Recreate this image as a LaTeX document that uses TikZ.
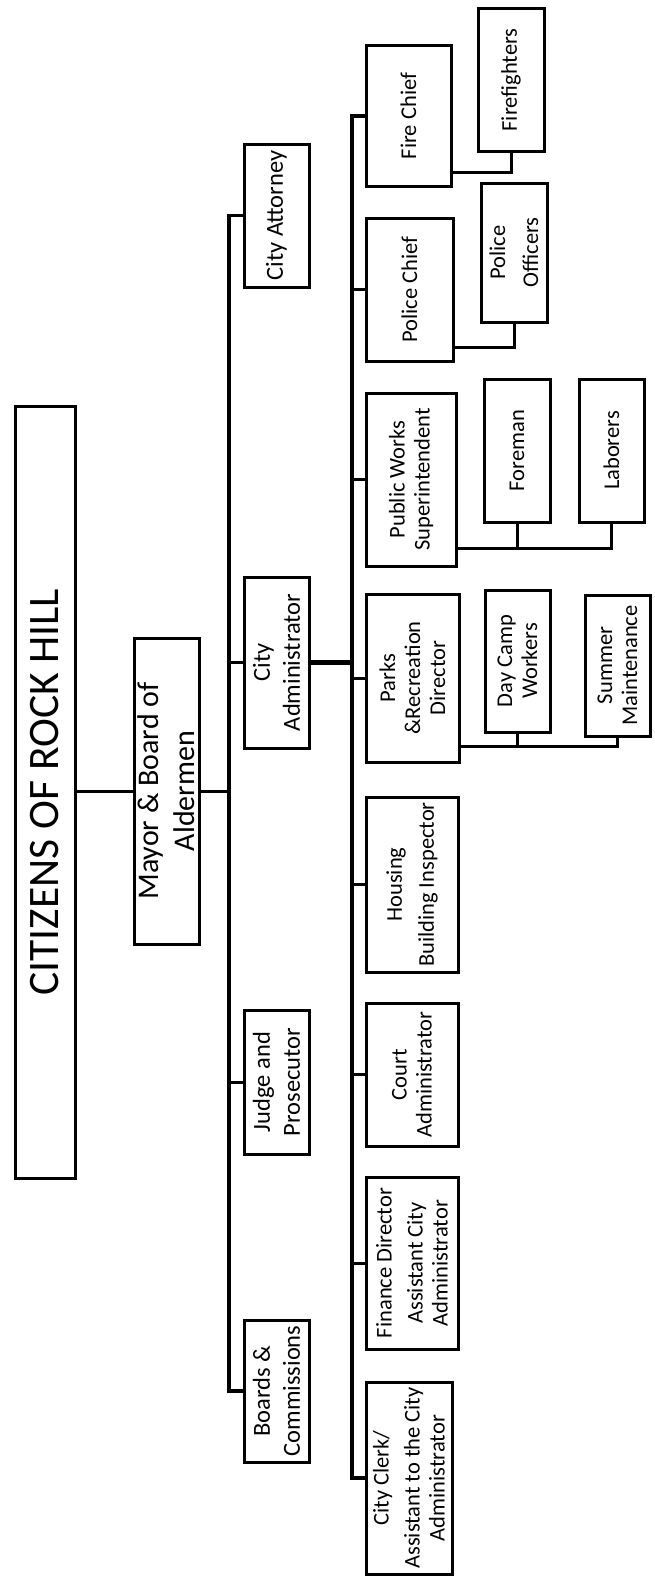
\documentclass[tikz,border=0pt]{standalone}
\usepackage{fontspec}
\setmainfont{Carlito}
\begin{document}
\begin{tikzpicture}[x=1pt,y=-1pt,
  box/.style={draw, line width=3pt, rotate=90, inner sep=0pt, align=center, anchor=center},
  lvtwo/.style={box, font=\fontsize{24.5}{30}\selectfont},
  lvthree/.style={box, font=\fontsize{22.5}{25}\selectfont},
  conn/.style={line width=3pt},
  trunk/.style={line width=3.5pt}]
\useasboundingbox (0,0) rectangle (654,1579);
% level 0 and 1
\node[box, minimum width=772pt, minimum height=60pt, font=\fontsize{43.5}{50}\selectfont] (cit) at (45,792) {CITIZENS OF ROCK HILL};
\node[box, minimum width=306pt, minimum height=65pt, font=\fontsize{30}{36}\selectfont] (mayor) at (166.5,791) {Mayor \& Board of\\Aldermen};
% level 2
\node[lvtwo, minimum width=143pt, minimum height=65pt] (att) at (276.5,215.5) {City Attorney};
\node[lvtwo, minimum width=171pt, minimum height=65pt] (adm) at (276.5,662.5) {City\\Administrator};
\node[lvtwo, minimum width=144pt, minimum height=65pt] (judge) at (276.5,1082) {Judge and\\Prosecutor};
\node[lvtwo, minimum width=142pt, minimum height=65pt] (boards) at (276.5,1391) {Boards \&\\Commissions};
% level 3
\node[lvthree, minimum width=140pt, minimum height=85pt] (fire) at (408.5,116) {Fire Chief};
\node[lvthree, minimum width=143pt, minimum height=87pt] (police) at (409.5,289.5) {Police Chief};
\node[lvthree, minimum width=173pt, minimum height=90pt] (pw) at (411,479.5) {Public Works\\Superintendent};
\node[lvthree, minimum width=168pt, minimum height=93pt] (parks) at (412.5,678) {Parks\\\&Recreation\\Director};
\node[lvthree, minimum width=175pt, minimum height=92pt] (housing) at (412,884.5) {Housing\\[7pt]Building Inspector};
\node[lvthree, minimum width=143pt, minimum height=92pt] (court) at (412,1074.5) {Court\\Administrator};
\node[lvthree, minimum width=172pt, minimum height=92pt] (fin) at (412,1263) {Finance Director\\[6pt]Assistant City\\Administrator};
\node[lvthree, minimum width=192pt, minimum height=86pt] (clerk) at (409,1478) {City Clerk/\\[6pt]Assistant to the City\\Administrator};
% level 4
\node[lvthree, minimum width=142pt, minimum height=66pt] (ff) at (511,80) {Firefighters};
\node[lvthree, minimum width=139pt, minimum height=66pt] (po) at (514,252.5) {Police\\[8pt]Officers};
\node[lvthree, minimum width=143pt, minimum height=66pt] (fore) at (517,450.5) {Foreman};
\node[lvthree, minimum width=143pt, minimum height=65pt] (lab) at (611.5,450.5) {Laborers};
\node[lvthree, minimum width=142pt, minimum height=65pt] (dc) at (517.5,661) {Day Camp\\Workers};
\node[lvthree, minimum width=141pt, minimum height=65pt] (sm) at (617.5,665.5) {Summer\\Maintenance};
% junction coordinates
\coordinate (tone) at (229,0);
\coordinate (ttwo) at (352,0);
\coordinate (fireJ) at (0,172);
\coordinate (polJ) at (0,347);
\coordinate (pwJ) at (0,548);
\coordinate (parksJ) at (0,746);
% connectors
\draw[conn] (mayor.north -| cit.south) -- (mayor.north);
\draw[conn] (mayor.south) -- (mayor.south -| tone);
\draw[trunk] (att.north) -- (att.north -| tone) -- (boards.north -| tone) -- (boards.north);
\draw[conn] (adm.north) -- (adm.north -| tone);
\draw[conn] (judge.north) -- (judge.north -| tone);
\draw[line width=5pt] (adm.south) -- (adm.south -| ttwo);
\draw[trunk] (fire.north) -- (fire.north -| ttwo) -- (clerk.north -| ttwo) -- (clerk.north);
\foreach \n in {police,pw,parks,housing,court,fin}
  \draw[conn] (\n.north) -- (\n.north -| ttwo);
\draw[conn] (fire.south |- fireJ) -- (ff.west |- fireJ) -- (ff.west);
\draw[conn] (police.south |- polJ) -- (po.west |- polJ) -- (po.west);
\draw[conn] (pw.south |- pwJ) -- (lab.west |- pwJ) -- (lab.west);
\draw[conn] (fore.west) -- (fore.west |- pwJ);
\draw[conn] (parks.south |- parksJ) -- (sm.west |- parksJ) -- (sm.west);
\draw[conn] (dc.west) -- (dc.west |- parksJ);
\end{tikzpicture}
\end{document}
